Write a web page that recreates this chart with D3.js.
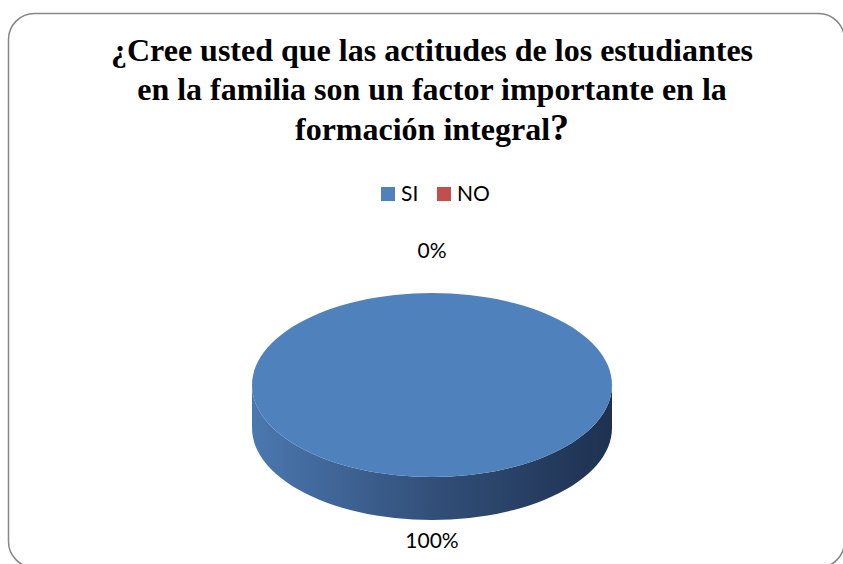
<!DOCTYPE html>
<html>
<head>
<meta charset="utf-8">
<script src="https://cdn.jsdelivr.net/npm/d3@7"></script>
<style>
  body { margin: 0; background: #fff; }
  svg { display: block; }
  .titulo { font-family: "Liberation Serif", "DejaVu Serif", serif; font-weight: bold; }
  .etq { font-family: Lato, "Open Sans", sans-serif; }
</style>
</head>
<body>
<div id="chart"></div>
<script>
// datos del grafico
const categories = ["SI", "NO"];
const values = [100, 0];
const labels = ["100%", "0%"];
const colors = ["#4F81BD", "#C0504D"];
const titleLines = ["¿Cree usted que las actitudes de los estudiantes", "en la familia son un factor importante en la", "formación integral"];

const width = 843, height = 564;
const svg = d3.select("#chart").append("svg")
    .attr("width", width).attr("height", height);

// marco redondeado
svg.append("rect")
    .attr("x", 8.5).attr("y", 13.5)
    .attr("width", 836).attr("height", 554)
    .attr("rx", 26).attr("ry", 26)
    .attr("fill", "#fff")
    .attr("stroke", "#868686").attr("stroke-width", 1.5);

// titulo
const titleY = [61, 100, 140];
titleLines.forEach((t, i) => {
    const txt = svg.append("text")
        .attr("class", "titulo")
        .attr("text-anchor", "middle")
        .attr("x", 432).attr("y", titleY[i])
        .attr("font-size", 32)
        .attr("fill", "#000");
    txt.append("tspan").text(t);
    if (i === titleLines.length - 1) txt.append("tspan").attr("font-size", 38).text("?");
});

// leyenda
const legend = svg.append("g").attr("class", "etq").attr("font-size", 21);
const legendX = [381, 437];
categories.forEach((c, i) => {
    legend.append("rect").attr("x", legendX[i]).attr("y", 187).attr("width", 14).attr("height", 14)
        .attr("fill", colors[i]);
    legend.append("text").attr("x", legendX[i] + 20).attr("y", 201).attr("fill", "#000").text(c);
});

// pastel 3D
const cx = 432, cy = 385, rx = 180, ry = 92, depth = 43;
const pie = d3.pie().sort(null).startAngle(0).endAngle(2 * Math.PI);
const arcs = pie(values);

const defs = svg.append("defs");
const grad = defs.append("linearGradient").attr("id", "side0")
    .attr("gradientUnits", "userSpaceOnUse")
    .attr("x1", cx - rx).attr("x2", cx + rx).attr("y1", 0).attr("y2", 0);
grad.append("stop").attr("offset", "0%").attr("stop-color", "#4B78B0");
grad.append("stop").attr("offset", "50%").attr("stop-color", "#324F79");
grad.append("stop").attr("offset", "100%").attr("stop-color", "#1E3150");

const px = a => cx + rx * Math.sin(a);
const py = a => cy - ry * Math.cos(a);

// lado (solo la mitad frontal)
function sidePath(a0, a1) {
    const s = Math.max(a0, Math.PI / 2), e = Math.min(a1, 3 * Math.PI / 2);
    if (e <= s) return null;
    const n = 60, pts = d3.range(n + 1).map(k => s + (e - s) * k / n);
    const top = pts.map(a => [px(a), py(a)]);
    const bottom = pts.slice().reverse().map(a => [px(a), py(a) + depth]);
    return d3.line()(top.concat(bottom)) + "Z";
}
function topPath(a0, a1) {
    const n = 120, pts = d3.range(n + 1).map(k => a0 + (a1 - a0) * k / n);
    const p = pts.map(a => [px(a), py(a)]);
    if (a1 - a0 < 2 * Math.PI - 1e-6) p.unshift([cx, cy]);
    return d3.line()(p) + "Z";
}

const g = svg.append("g");
arcs.forEach((d, i) => {
    if (d.endAngle - d.startAngle <= 0) return;
    const sp = sidePath(d.startAngle, d.endAngle);
    if (sp) g.append("path").attr("d", sp).attr("fill", i === 0 ? "url(#side0)" : d3.color(colors[i]).darker(1));
});
arcs.forEach((d, i) => {
    if (d.endAngle - d.startAngle <= 0) return;
    g.append("path").attr("d", topPath(d.startAngle, d.endAngle)).attr("fill", colors[i]);
});

// etiquetas de datos
arcs.forEach((d, i) => {
    const a = (d.startAngle + d.endAngle) / 2;
    const front = Math.cos(a) < 0;
    const off = front ? 28 : 35;
    const x = cx + (rx + off) * Math.sin(a);
    const y = cy - (ry + off) * Math.cos(a) + (front ? depth : 0);
    svg.append("text").attr("class", "etq").attr("x", x).attr("y", y)
        .attr("text-anchor", "middle")
        .attr("font-size", 21).attr("fill", "#000")
        .text(labels[i]);
});
</script>
</body>
</html>
